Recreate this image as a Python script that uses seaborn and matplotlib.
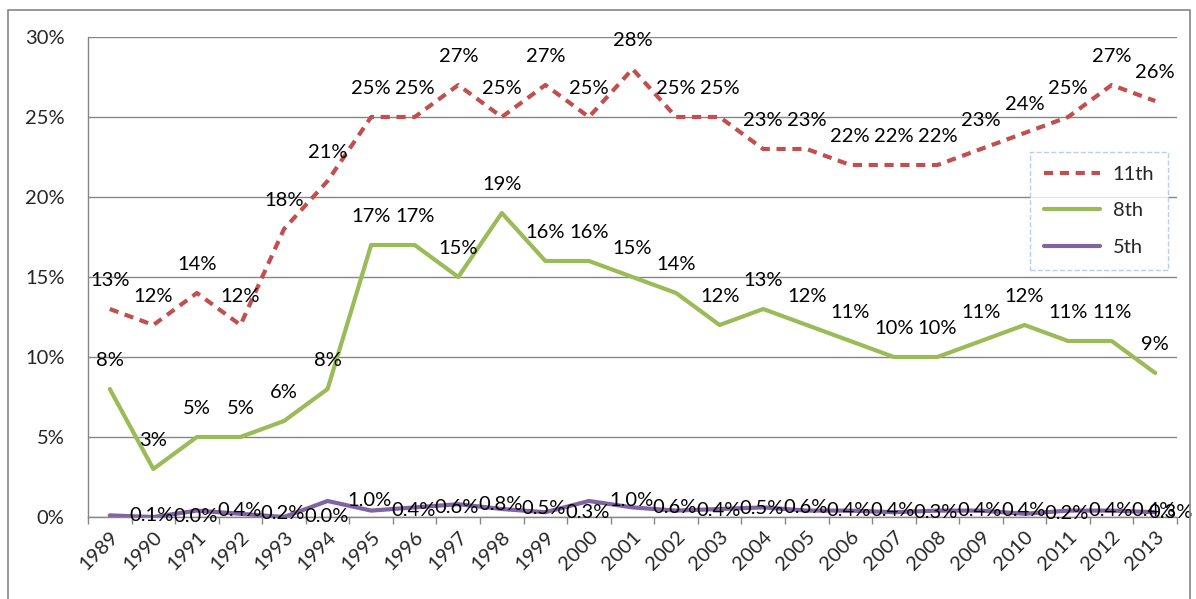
import matplotlib
matplotlib.use('Agg')
import matplotlib.pyplot as plt
import pandas as pd
import seaborn as sns
from matplotlib.patches import Rectangle
from matplotlib.ticker import FuncFormatter, MultipleLocator

years = list(range(1989, 2014))
grade_11 = [13, 12, 14, 12, 18, 21, 25, 25, 27, 25, 27, 25, 28, 25, 25, 23, 23, 22, 22, 22, 23, 24, 25, 27, 26]
grade_8 = [8, 3, 5, 5, 6, 8, 17, 17, 15, 19, 16, 16, 15, 14, 12, 13, 12, 11, 10, 10, 11, 12, 11, 11, 9]
grade_5 = [0.1, 0.0, 0.4, 0.2, 0.0, 1.0, 0.4, 0.6, 0.8, 0.5, 0.3, 1.0, 0.6, 0.4, 0.5, 0.6,
           0.4, 0.4, 0.3, 0.4, 0.4, 0.2, 0.4, 0.4, 0.3]

series = {'11th': grade_11, '8th': grade_8, '5th': grade_5}
colors = {'11th': '#C0504D', '8th': '#9BBB59', '5th': '#8064A2'}

rows = []
for name, vals in series.items():
    for i, v in enumerate(vals):
        rows.append({'pos': i, 'value': v, 'grade': name})
df = pd.DataFrame(rows)

sns.set_style('white')
plt.rcParams['font.family'] = ['Lato', 'DejaVu Sans']
fs = 14.5

fig = plt.figure(figsize=(11.96, 5.99), dpi=100)
ax = fig.add_axes([88 / 1196, 1 - 517 / 599, (1177 - 88) / 1196, (517 - 37) / 599])

sns.lineplot(data=df, x='pos', y='value', hue='grade', style='grade',
             palette=colors, dashes={'11th': (2.2, 1.6), '8th': '', '5th': ''},
             linewidth=3, ax=ax, legend=False)

# data labels
for name in ['11th', '8th']:
    for i, v in enumerate(series[name]):
        ax.annotate(f'{v:.0f}%', (i, v), xytext=(0, 28), textcoords='offset pixels',
                    ha='center', va='center', fontsize=fs, color='black')
for i, v in enumerate(grade_5):
    if i == len(grade_5) - 1:
        # last label pushed back inside the chart, like the original
        ax.annotate(f'{v:.1f}%', (i, v), xytext=(38, 0), textcoords='offset pixels',
                    ha='right', va='center', fontsize=fs, color='black')
    else:
        ax.annotate(f'{v:.1f}%', (i, v), xytext=(20, 0), textcoords='offset pixels',
                    ha='left', va='center', fontsize=fs, color='black')

ax.set_xlim(-0.5, len(years) - 0.5)
ax.set_ylim(0, 30)
ax.yaxis.set_major_locator(MultipleLocator(5))
ax.yaxis.set_major_formatter(FuncFormatter(lambda v, p: f'{v:.0f}%'))
ax.set_xticks(range(len(years)))
ax.set_xticklabels([str(y) for y in years], rotation=45, ha='right',
                   rotation_mode='anchor', fontsize=fs)
ax.set_xticks([i - 0.5 for i in range(len(years) + 1)], minor=True)
ax.tick_params(axis='x', which='major', length=0, pad=8)
ax.tick_params(axis='x', which='minor', length=5, color='#868686', width=1, bottom=True)
ax.tick_params(axis='y', length=0, labelsize=fs, pad=17)
ax.set_xlabel('')
ax.set_ylabel('')
ax.grid(axis='y', color='#868686', linewidth=1)
ax.set_axisbelow(True)
for s in ['top', 'right']:
    ax.spines[s].set_visible(False)
for s in ['left', 'bottom']:
    ax.spines[s].set_color('#868686')
    ax.spines[s].set_linewidth(1)

handles = [plt.Line2D([], [], color=colors['11th'], lw=3, dashes=(2.2, 1.6)),
           plt.Line2D([], [], color=colors['8th'], lw=3),
           plt.Line2D([], [], color=colors['5th'], lw=3)]
leg = fig.legend(handles, ['11th', '8th', '5th'], loc='upper left',
                 bbox_to_anchor=(1030 / 1196, 1 - 152 / 599), fontsize=fs,
                 frameon=True, fancybox=False, handlelength=2.8, labelspacing=0.95,
                 borderpad=0.7, handletextpad=0.6, borderaxespad=0)
leg.get_frame().set_edgecolor('#A9C1E8')
leg.get_frame().set_linestyle('--')
leg.get_frame().set_linewidth(1)

fig.patches.append(Rectangle((8 / 1196, -10 / 599), 1182 / 1196, 599 / 599,
                             transform=fig.transFigure, fill=False,
                             edgecolor='#868686', linewidth=1.2))

fig.savefig('out.png', dpi=100)
